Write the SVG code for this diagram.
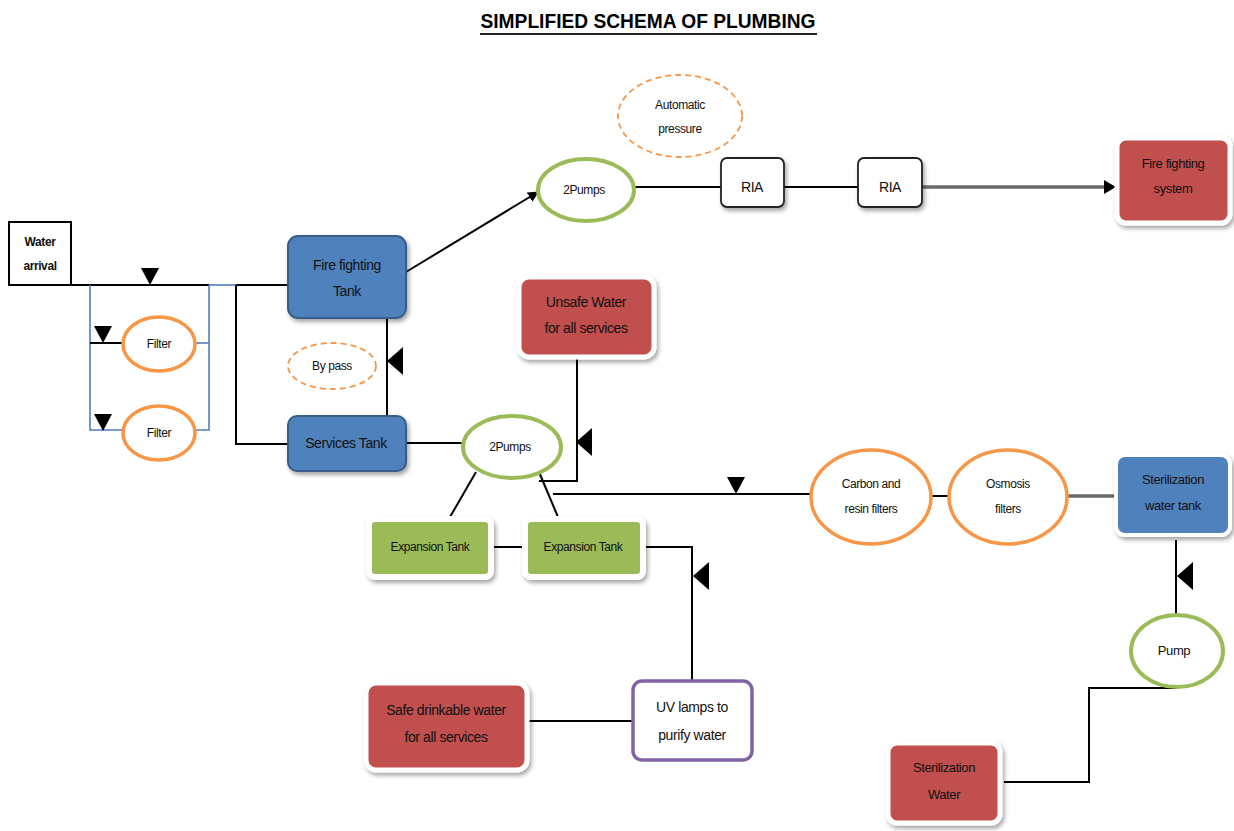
<svg xmlns="http://www.w3.org/2000/svg" width="1234" height="831" viewBox="0 0 1234 831">
  <defs>
    <filter id="shadow" x="-20%" y="-20%" width="150%" height="160%">
      <feDropShadow dx="2" dy="3" stdDeviation="2" flood-color="#000" flood-opacity="0.35"/>
    </filter>
    <marker id="arrowSmall" viewBox="0 0 10 10" refX="9" refY="5" markerWidth="11" markerHeight="11" orient="auto" markerUnits="userSpaceOnUse">
      <path d="M0,0 L10,5 L0,10 z" fill="#000"/>
    </marker>
    <!-- check-valve symbols -->
    <path id="valveDown" d="M-9,-17 L9,-17 L0,0 z"/>
    <path id="valveLeft" d="M0,0 L16,-14 L16,14 z"/>
  </defs>
  <style>
    text { font-family: "Liberation Sans", Arial, sans-serif; fill: #111; text-anchor: middle; letter-spacing: -0.4px; }
    .title { font-weight: bold; font-size: 21px; letter-spacing: 0; fill: #000; }
    .t12 { font-size: 12px; }
    .t13 { font-size: 13px; }
    .t14 { font-size: 14px; }
    .bold { font-weight: bold; }
    .line { fill: none; stroke: #000; stroke-width: 2; }
    .pipe { fill: none; stroke: #4f7cc4; stroke-width: 1.6; }
    .grey { fill: none; stroke: #6a6a6a; stroke-width: 3.5; }
    .valve { fill: #000; }
    .blue { fill: #4f81bd; stroke: #385d8a; stroke-width: 2; filter: url(#shadow); }
    .blueW { fill: #4f81bd; stroke: #fff; stroke-width: 4; filter: url(#shadow); }
    .red { fill: #c0504d; stroke: #fff; stroke-width: 5; filter: url(#shadow); }
    .green { fill: #9bbb59; stroke: #fff; stroke-width: 6; filter: url(#shadow); }
    .plain { fill: #fff; stroke: #000; stroke-width: 2; }
    .ria { fill: #fff; stroke: #222; stroke-width: 1.8; filter: url(#shadow); }
    .pump { fill: #fff; stroke: #9bbb59; stroke-width: 4; }
    .filt { fill: #fff; stroke: #f79646; stroke-width: 3.5; }
    .dash { fill: #fff; stroke: #f79646; stroke-width: 1.8; stroke-dasharray: 6 4; }
    .uv { fill: #fff; stroke: #8064a2; stroke-width: 3.5; }
  </style>

  <rect width="1234" height="831" fill="#fff"/>

  <!-- title -->
  <g id="title">
    <text class="title" x="648" y="28" textLength="335" lengthAdjust="spacingAndGlyphs">SIMPLIFIED SCHEMA OF PLUMBING</text>
    <line x1="480" y1="34" x2="817" y2="34" stroke="#222" stroke-width="2"/>
  </g>

  <!-- pipes and connectors -->
  <g id="connectors">
    <!-- inlet with filter bypass -->
    <path class="line" d="M9,285 H209"/>
    <path class="pipe" d="M209,285 H236"/>
    <path class="line" d="M236,285 H288"/>
    <path class="pipe" d="M90,285 V430 H123"/>
    <path class="pipe" d="M209,285 V430 H195"/>
    <path class="line" d="M90,343 H123"/>
    <path class="pipe" d="M195,343 H209"/>
    <path class="line" d="M236,285 V444 H288"/>
    <use href="#valveDown" class="valve" x="150" y="285"/>
    <use href="#valveDown" class="valve" x="103" y="343"/>
    <use href="#valveDown" class="valve" x="103" y="431"/>
    <!-- bypass between tanks -->
    <path class="line" d="M387,308 V416"/>
    <use href="#valveLeft" class="valve" x="387" y="361"/>
    <!-- fire fighting branch -->
    <path class="line" d="M406,272 L538,192" marker-end="url(#arrowSmall)"/>
    <path class="line" d="M635,187 H721"/>
    <path class="line" d="M784,187 H858"/>
    <path class="grey" d="M922,187 H1106"/>
    <path d="M1104,180 L1116,187 L1104,194 z" fill="#000"/>
    <!-- services branch -->
    <path class="line" d="M406,443 H462"/>
    <path class="line" d="M577,357 V481 H539"/>
    <use href="#valveLeft" class="valve" x="576" y="442"/>
    <path class="line" d="M476,472 L450,517"/>
    <path class="line" d="M539,472 L558,517"/>
    <path class="line" d="M553,494 H811"/>
    <use href="#valveDown" class="valve" x="736" y="494"/>
    <path class="line" d="M931,496 H949"/>
    <path class="grey" d="M1068,496 H1116"/>
    <path class="line" d="M492,547 H527"/>
    <path class="line" d="M643,547 H692 V681"/>
    <use href="#valveLeft" class="valve" x="693" y="576"/>
    <path class="line" d="M527,721 H633"/>
    <!-- sterilization loop -->
    <path class="line" d="M1176,540 V614"/>
    <use href="#valveLeft" class="valve" x="1177" y="576"/>
    <path class="line" d="M1177,688 H1089 V782 H1004"/>
  </g>

  <g id="water-arrival">
    <rect class="plain" x="9" y="222" width="62" height="63"/>
    <text class="t12 bold" x="40" y="246">Water</text>
    <text class="t12 bold" x="40" y="270">arrival</text>
  </g>

  <g id="filter-1">
    <ellipse class="filt" cx="159" cy="344" rx="36" ry="27"/>
    <text class="t12" x="159" y="348">Filter</text>
  </g>
  <g id="filter-2">
    <ellipse class="filt" cx="159" cy="433" rx="36" ry="27"/>
    <text class="t12" x="159" y="437">Filter</text>
  </g>

  <g id="fire-fighting-tank">
    <rect class="blue" x="288" y="236" width="118" height="82" rx="10"/>
    <text class="t14" x="347" y="270">Fire fighting</text>
    <text class="t14" x="347" y="296">Tank</text>
  </g>

  <g id="by-pass">
    <ellipse class="dash" cx="332" cy="366" rx="44" ry="23"/>
    <text class="t12" x="332" y="370">By pass</text>
  </g>

  <g id="services-tank">
    <rect class="blue" x="288" y="416" width="118" height="55" rx="9"/>
    <text class="t14" x="346" y="448">Services Tank</text>
  </g>

  <g id="pumps-fire">
    <ellipse class="pump" cx="586" cy="190" rx="48" ry="31"/>
    <text class="t12" x="584" y="194">2Pumps</text>
  </g>

  <g id="automatic-pressure">
    <ellipse class="dash" cx="680" cy="116" rx="62" ry="41"/>
    <text class="t12" x="680" y="109">Automatic</text>
    <text class="t12" x="680" y="133">pressure</text>
  </g>

  <g id="ria-1">
    <rect class="ria" x="721" y="158" width="63" height="49" rx="6"/>
    <text class="t14" x="752" y="192">RIA</text>
  </g>
  <g id="ria-2">
    <rect class="ria" x="858" y="158" width="64" height="49" rx="6"/>
    <text class="t14" x="890" y="192">RIA</text>
  </g>

  <g id="fire-fighting-system">
    <rect class="red" x="1117" y="138" width="113" height="85" rx="9"/>
    <text class="t13" x="1173" y="168">Fire fighting</text>
    <text class="t13" x="1173" y="193">system</text>
  </g>

  <g id="unsafe-water">
    <rect class="red" x="519" y="277" width="135" height="80" rx="10"/>
    <text class="t14" x="586" y="307">Unsafe Water</text>
    <text class="t14" x="586" y="333">for all services</text>
  </g>

  <g id="pumps-services">
    <ellipse class="pump" cx="512" cy="447" rx="49" ry="31"/>
    <text class="t12" x="510" y="451">2Pumps</text>
  </g>

  <g id="expansion-tank-1">
    <rect class="green" x="369" y="519" width="122" height="58" rx="6"/>
    <text class="t12" x="430" y="551">Expansion Tank</text>
  </g>
  <g id="expansion-tank-2">
    <rect class="green" x="525" y="519" width="118" height="58" rx="6"/>
    <text class="t12" x="583" y="551">Expansion Tank</text>
  </g>

  <g id="carbon-resin-filters">
    <ellipse class="filt" cx="871" cy="497" rx="60" ry="47"/>
    <text class="t12" x="871" y="488">Carbon and</text>
    <text class="t12" x="871" y="513">resin filters</text>
  </g>
  <g id="osmosis-filters">
    <ellipse class="filt" cx="1008" cy="497" rx="59" ry="47"/>
    <text class="t12" x="1008" y="488">Osmosis</text>
    <text class="t12" x="1008" y="513">filters</text>
  </g>

  <g id="sterilization-water-tank">
    <rect class="blueW" x="1116" y="455" width="114" height="80" rx="9"/>
    <text class="t13" x="1173" y="484">Sterilization</text>
    <text class="t13" x="1173" y="510">water tank</text>
  </g>

  <g id="uv-lamps">
    <rect class="uv" x="633" y="681" width="119" height="79" rx="9"/>
    <text class="t14" x="692" y="712">UV lamps to</text>
    <text class="t14" x="692" y="740">purify water</text>
  </g>

  <g id="safe-drinkable-water">
    <rect class="red" x="366" y="683" width="161" height="87" rx="10"/>
    <text class="t14" x="446" y="715">Safe drinkable water</text>
    <text class="t14" x="446" y="742">for all services</text>
  </g>

  <g id="pump-sterilization">
    <ellipse class="pump" cx="1177" cy="651" rx="46" ry="36"/>
    <text class="t13" x="1174" y="655">Pump</text>
  </g>

  <g id="sterilization-water">
    <rect class="red" x="888" y="743" width="112" height="80" rx="9"/>
    <text class="t13" x="944" y="772">Sterilization</text>
    <text class="t13" x="944" y="799">Water</text>
  </g>
</svg>
